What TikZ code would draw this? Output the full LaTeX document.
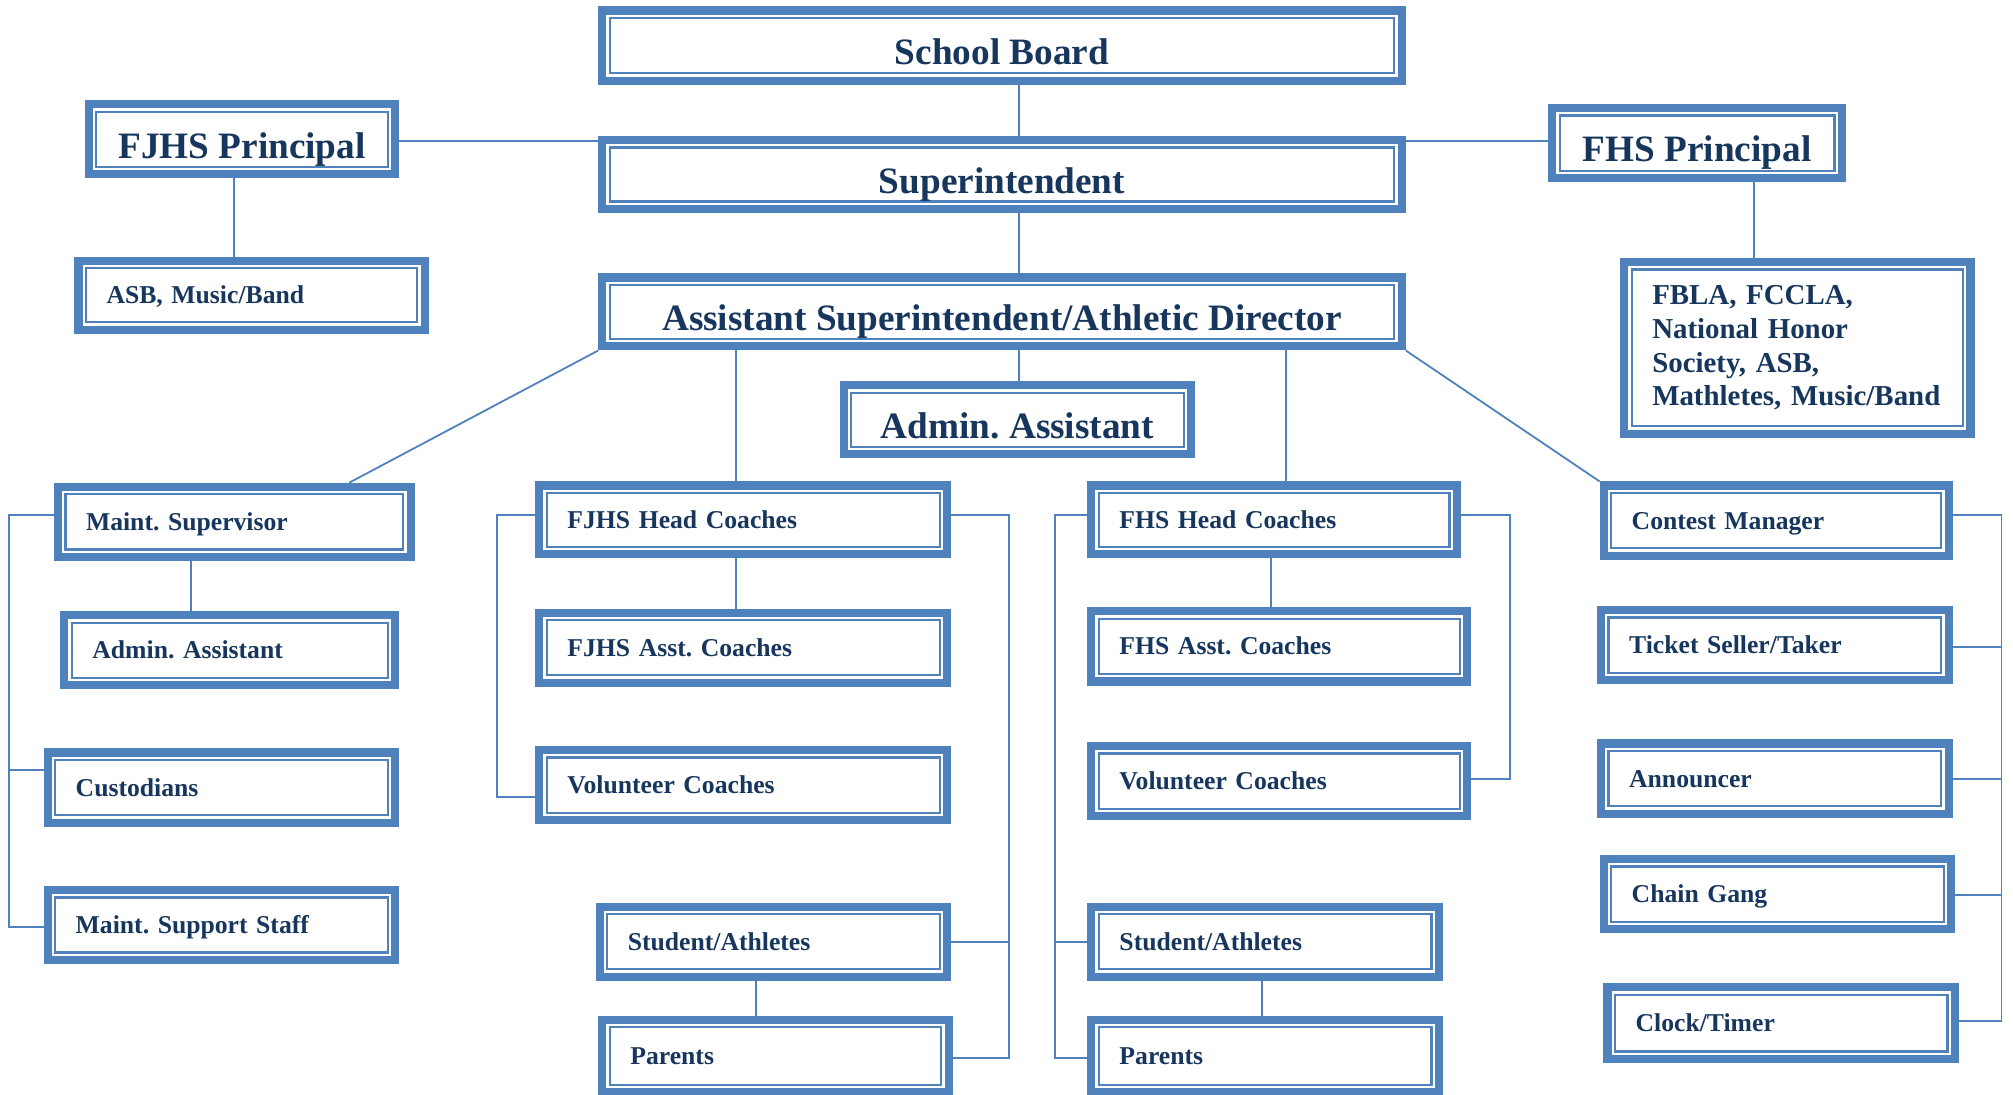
\documentclass[tikz,border=0pt]{standalone}
\usepackage{fontspec}
\setmainfont{Liberation Serif}
\usetikzlibrary{backgrounds}
\definecolor{bblue}{HTML}{4F81BD}
\definecolor{navy}{HTML}{17365D}
\frenchspacing
\begin{document}
\begin{tikzpicture}[x=1pt,y=-1pt,
  basebox/.style={draw=bblue, line width=6.3pt, fill=white, text=navy,
    path picture={\draw[bblue, line width=1.8pt]
      ([shift={(5.85pt,-5.85pt)}]path picture bounding box.north west) rectangle
      ([shift={(-5.85pt,5.85pt)}]path picture bounding box.south east);}},
  tbox/.style 2 args={basebox, minimum width={(#1-6.3)*1pt}, minimum height={(#2-6.3)*1pt},
    inner sep=0pt, font=\fontsize{29}{34}\selectfont\bfseries,
    text height=29.2pt, text depth=0pt},
  lbox/.style 2 args={basebox, minimum width={(#1-6.3)*1pt}, minimum height={(#2-6.3)*1pt},
    text width={(#1-50)*1pt}, inner xsep=21.85pt, inner ysep=0pt, align=left,
    font=\fontsize{20}{24}\selectfont\bfseries, text height=13.24pt, text depth=0pt},
  mbox/.style 2 args={basebox, minimum width={(#1-6.3)*1pt}, minimum height={(#2-6.3)*1pt},
    text width={(#1-50)*1pt}, inner xsep=21.85pt, inner ysep=0pt, align=left,
    font=\fontsize{22.5}{26.3}\selectfont\bfseries},
  conn/.style={draw=bblue, line width=1.4pt}
]
\useasboundingbox (0,0) rectangle (1568,852.2);

% top tier
\node[tbox={629}{61}] (sb)  at (780.5,35.5) {School Board};
\node[tbox={629}{60}] (sup) at (780.5,136) {Superintendent};
\node[tbox={629}{60}] (asd) at (780.5,243) {Assistant Superintendent/Athletic Director};
\node[tbox={245}{61}] (fjp) at (188.5,108.5) {FJHS Principal};
\node[tbox={232}{61}] (fhp) at (1322,111.5) {FHS Principal};
\node[tbox={277}{60}] (aam) at (792.5,327) {Admin. Assistant};
\node[lbox={276}{60}] (asb) at (196,230) {ASB, Music/Band};
\node[mbox={276}{140}] (fbla) at (1400,271) {FBLA, FCCLA,\\National Honor\\Society, ASB,\\Mathletes, Music/Band};

% maintenance column
\node[lbox={281}{61}] (msup) at (182.5,406.5) {Maint. Supervisor};
\node[lbox={264}{61}] (aal)  at (179,506.5) {Admin. Assistant};
\node[lbox={277}{61}] (cust) at (172.5,613.5) {Custodians};
\node[lbox={277}{61}] (mss)  at (172.5,720.5) {Maint. Support Staff};

% FJHS column
\node[lbox={324}{60}] (fjhc) at (579,405) {FJHS Head Coaches};
\node[lbox={324}{61}] (fjac) at (579,504.5) {FJHS Asst. Coaches};
\node[lbox={324}{61}] (fjvc) at (579,611.5) {Volunteer Coaches};
\node[lbox={277}{61}] (fjsa) at (602.5,733.5) {Student/Athletes};
\node[lbox={276}{63}] (fjpa) at (604,822.5) {Parents};

% FHS column
\node[lbox={291}{60}] (fhhc) at (992.5,405) {FHS Head Coaches};
\node[lbox={299}{61}] (fhac) at (996.5,503.5) {FHS Asst. Coaches};
\node[lbox={299}{61}] (fhvc) at (996.5,608.5) {Volunteer Coaches};
\node[lbox={277}{61}] (fhsa) at (985.5,733.5) {Student/Athletes};
\node[lbox={277}{63}] (fhpa) at (985.5,822.5) {Parents};

% event staff column
\node[lbox={275}{61}] (cm)  at (1383.5,405.5) {Contest Manager};
\node[lbox={277}{61}] (ts)  at (1382.5,502.5) {Ticket Seller/Taker};
\node[lbox={277}{61}] (ann) at (1382.5,606.5) {Announcer};
\node[lbox={277}{61}] (cg)  at (1384.5,696.5) {Chain Gang};
\node[lbox={277}{62}] (ct)  at (1387.5,797) {Clock/Timer};

\begin{scope}[on background layer]
\draw[conn] (sb.south -| 794,0) -- (sup.north -| 794,0);
\draw[conn] (sup.south -| 794,0) -- (asd.north -| 794,0);
\draw[conn] (asd.south -| 794,0) -- (aam.north -| 794,0);
\draw[conn] (fjp.east |- 0,110) -- (sup.west |- 0,110);
\draw[conn] (sup.east |- 0,110) -- (fhp.west |- 0,110);
\draw[conn] (fjp.south -| 182,0) -- (asb.north -| 182,0);
\draw[conn] (fhp.south -| 1366,0) -- (fbla.north -| 1366,0);
\draw[conn] (asd.south west) -- (msup.north -| 272,0);
\draw[conn] (asd.south east) -- (cm.north west);
\draw[conn] (asd.south -| 573,0) -- (fjhc.north -| 573,0);
\draw[conn] (asd.south -| 1002,0) -- (fhhc.north -| 1002,0);
\draw[conn] (msup.south -| 149,0) -- (aal.north -| 149,0);
\draw[conn] (fjhc.south -| 573,0) -- (fjac.north -| 573,0);
\draw[conn] (fhhc.south -| 990,0) -- (fhac.north -| 990,0);
\draw[conn] (fjsa.south -| 589,0) -- (fjpa.north -| 589,0);
\draw[conn] (fhsa.south -| 983,0) -- (fhpa.north -| 983,0);
% maintenance bracket
\draw[conn] (msup.west |- 0,401) -- (7,401) -- (7,722) -- (mss.west |- 0,722);
\draw[conn] (cust.west |- 0,600) -- (7,600);
% FJHS brackets
\draw[conn] (fjhc.west |- 0,401) -- (387,401) -- (387,621) -- (fjvc.west |- 0,621);
\draw[conn] (fjhc.east |- 0,401) -- (786,401) -- (786,824) -- (fjpa.east |- 0,824);
\draw[conn] (fjsa.east |- 0,734) -- (786,734);
% FHS brackets
\draw[conn] (fhhc.west |- 0,401) -- (822,401) -- (822,824) -- (fhpa.west |- 0,824);
\draw[conn] (fhsa.west |- 0,734) -- (822,734);
\draw[conn] (fhhc.east |- 0,401) -- (1176,401) -- (1176,607) -- (fhvc.east |- 0,607);
% event staff bracket
\draw[conn] (cm.east |- 0,401) -- (1559,401) -- (1559,795) -- (ct.east |- 0,795);
\draw[conn] (ts.east |- 0,504) -- (1559,504);
\draw[conn] (ann.east |- 0,607) -- (1559,607);
\draw[conn] (cg.east |- 0,697) -- (1559,697);
\end{scope}
\end{tikzpicture}
\end{document}
